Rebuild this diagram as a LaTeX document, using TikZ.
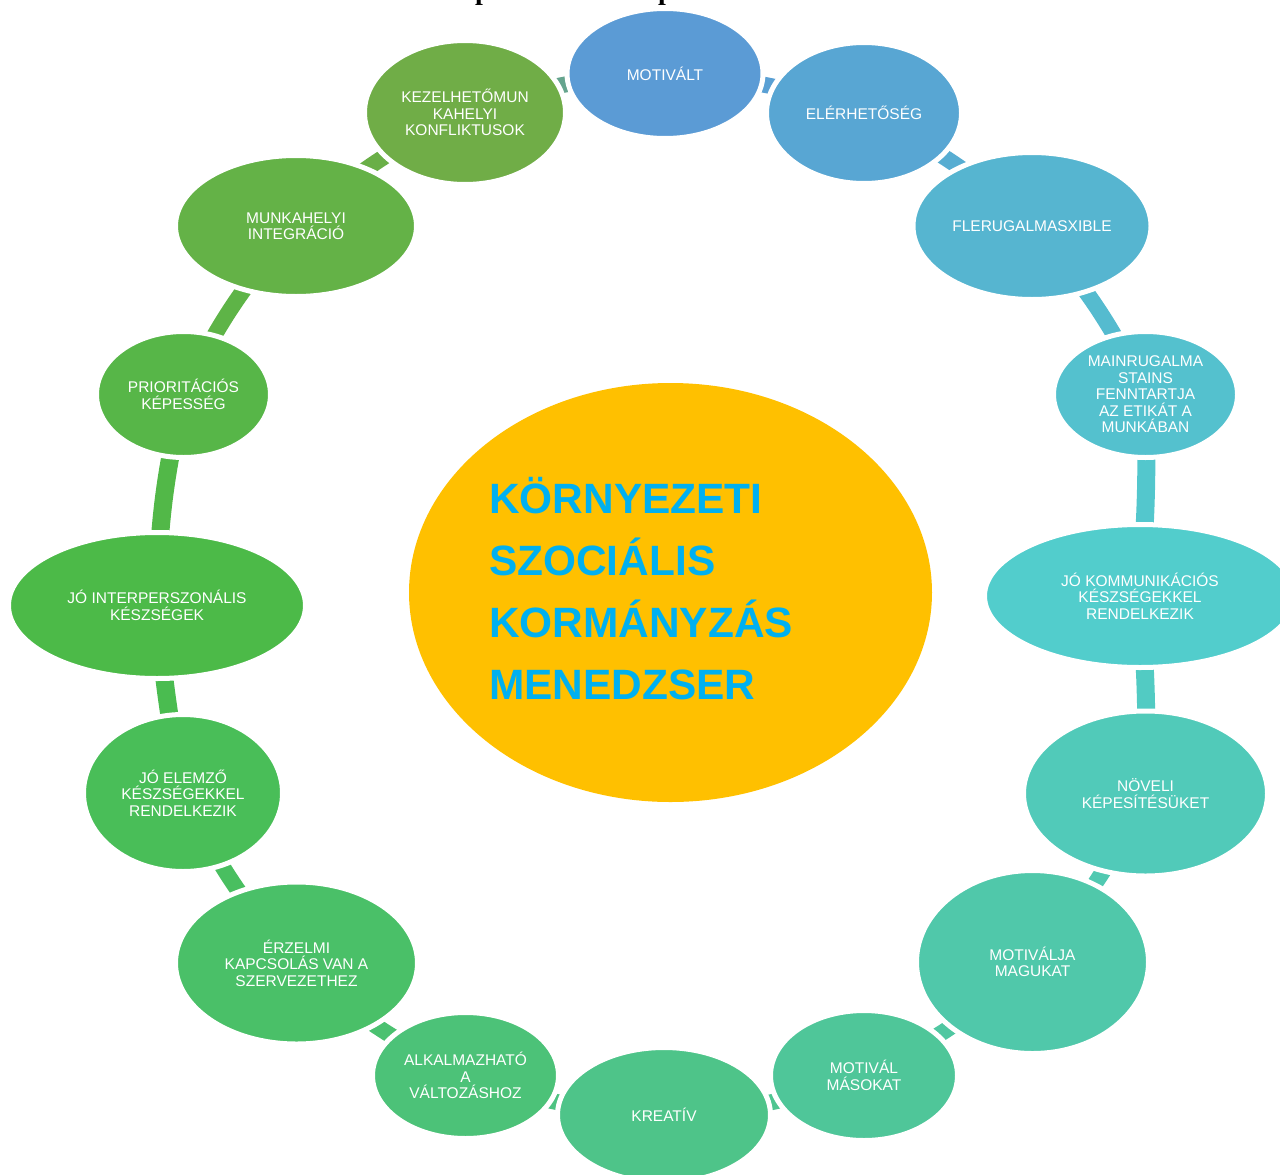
\documentclass[tikz,border=0pt]{standalone}
\usepackage{fontspec}
\setmainfont{Liberation Sans}
\newfontfamily\titleserif{Liberation Serif}
\usetikzlibrary{shapes.geometric,backgrounds}
\definecolor{c1}{RGB}{91,155,213}
\definecolor{c2}{RGB}{88,166,211}
\definecolor{c3}{RGB}{86,181,208}
\definecolor{c4}{RGB}{84,193,206}
\definecolor{c5}{RGB}{82,205,204}
\definecolor{c6}{RGB}{81,202,185}
\definecolor{c7}{RGB}{80,200,170}
\definecolor{c8}{RGB}{79,198,153}
\definecolor{c9}{RGB}{78,196,137}
\definecolor{c10}{RGB}{76,194,120}
\definecolor{c11}{RGB}{74,192,104}
\definecolor{c12}{RGB}{73,190,88}
\definecolor{c13}{RGB}{76,186,72}
\definecolor{c14}{RGB}{87,182,72}
\definecolor{c15}{RGB}{100,178,71}
\definecolor{c16}{RGB}{112,173,71}
\definecolor{hub}{RGB}{255,192,0}
\definecolor{hubtext}{RGB}{0,176,240}
\begin{document}
\begin{tikzpicture}[x=1pt,y=1pt,
  bub/.style={ellipse, draw=white, line width=5pt, inner sep=0pt, text=white,
    align=center, font=\fontsize{15.5}{16.5}\selectfont},
  link/.style={line width=16pt, line cap=butt},
  hubline/.style={anchor=base west, inner sep=0pt, text=hubtext,
    font=\fontsize{42.4}{50}\selectfont\bfseries},
  frag/.style={anchor=base west, inner sep=0pt, font=\fontsize{28}{30}\selectfont\titleserif\bfseries}]
\useasboundingbox (0,0) rectangle (1280,-1175);

% cut-off title fragments
\node[frag] (tp1) at (475,1) {p};
\node[frag] (tp2) at (658,1) {p};

% centre
\node[ellipse, fill=hub, minimum width=523, minimum height=419, inner sep=0pt] (hub) at (670.5,-592.5) {};
\node[hubline] (h1) at (489,-513) {KÖRNYEZETI};
\node[hubline] (h2) at (489,-575) {SZOCIÁLIS};
\node[hubline] (h3) at (489,-637) {KORMÁNYZÁS};
\node[hubline] (h4) at (489,-699) {MENEDZSER};

% ring nodes
\node[bub, fill=c1, minimum width=196, minimum height=130] (n1) at (665,-73.5) {MOTIVÁLT};
\node[bub, fill=c2, minimum width=195, minimum height=141] (n2) at (864,-113) {ELÉRHETŐSÉG};
\node[bub, fill=c3, minimum width=238, minimum height=147] (n3) at (1032,-226) {FLERUGALMASXIBLE};
\node[bub, fill=c4, minimum width=184, minimum height=126] (n4) at (1145.5,-394.5) {MAINRUGALMA\\STAINS\\FENNTARTJA\\AZ ETIKÁT A\\MUNKÁBAN};
\node[bub, fill=c5, minimum width=311, minimum height=143] (n5) at (1140,-596) {JÓ KOMMUNIKÁCIÓS\\KÉSZSÉGEKKEL\\RENDELKEZIK};
\node[bub, fill=c6, minimum width=244, minimum height=165] (n6) at (1145.5,-793.5) {NÖVELI\\KÉPESÍTÉSÜKET};
\node[bub, fill=c7, minimum width=232, minimum height=183] (n7) at (1032.5,-962) {MOTIVÁLJA\\MAGUKAT};
\node[bub, fill=c8, minimum width=187, minimum height=130] (n8) at (864,-1075.5) {MOTIVÁL\\MÁSOKAT};
\node[bub, fill=c9, minimum width=213, minimum height=135] (n9) at (664,-1115) {KREATÍV};
\node[bub, fill=c10, minimum width=186, minimum height=126] (n10) at (465.5,-1075.5) {ALKALMAZHATÓ\\A\\VÁLTOZÁSHOZ};
\node[bub, fill=c11, minimum width=242, minimum height=162] (n11) at (296.5,-963) {ÉRZELMI\\KAPCSOLÁS VAN A\\SZERVEZETHEZ};
\node[bub, fill=c12, minimum width=199, minimum height=157] (n12) at (183,-793) {JÓ ELEMZŐ\\KÉSZSÉGEKKEL\\RENDELKEZIK};
\node[bub, fill=c13, minimum width=297, minimum height=146] (n13) at (157,-605.5) {JÓ INTERPERSZONÁLIS\\KÉSZSÉGEK};
\node[bub, fill=c14, minimum width=174, minimum height=126] (n14) at (183.5,-394.5) {PRIORITÁCIÓS\\KÉPESSÉG};
\node[bub, fill=c15, minimum width=241, minimum height=141] (n15) at (296,-226) {MUNKAHELYI\\INTEGRÁCIÓ};
\node[bub, fill=c16, minimum width=201, minimum height=144] (n16) at (465,-112.5) {KEZELHETŐMUN\\KAHELYI\\KONFLIKTUSOK};

% connectors
\begin{scope}[on background layer]
\draw[link, c16!50!c1] (n16.center) to[bend left=8] (n1.center);
\draw[link, c1!50!c2] (n1.center) to[bend left=8] (n2.center);
\draw[link, c2!50!c3] (n2.center) to[bend left=8] (n3.center);
\draw[link, c3!50!c4] (n3.center) to[bend left=8] (n4.center);
\draw[link, c4!50!c5, line width=18pt] (n4.center) to[bend left=3] (n5.center);
\draw[link, c5!50!c6, line width=18pt] (n5.center) to[bend left=3] (n6.center);
\draw[link, c6!50!c7] (n6.center) to[bend left=8] (n7.center);
\draw[link, c7!50!c8] (n7.center) to[bend left=8] (n8.center);
\draw[link, c8!50!c9] (n8.center) to[bend left=8] (n9.center);
\draw[link, c9!50!c10] (n9.center) to[bend left=8] (n10.center);
\draw[link, c10!50!c11] (n10.center) to[bend left=8] (n11.center);
\draw[link, c11!50!c12] (n11.center) to[bend left=8] (n12.center);
\draw[link, c12!50!c13, line width=18pt] (n12.center) to[bend left=3] (n13.center);
\draw[link, c13!50!c14, line width=18pt] (n13.center) to[bend left=6] (n14.center);
\draw[link, c14!50!c15] (n14.center) to[bend left=8] (n15.center);
\draw[link, c15!50!c16] (n15.center) to[bend left=8] (n16.center);
\end{scope}
\end{tikzpicture}
\end{document}
